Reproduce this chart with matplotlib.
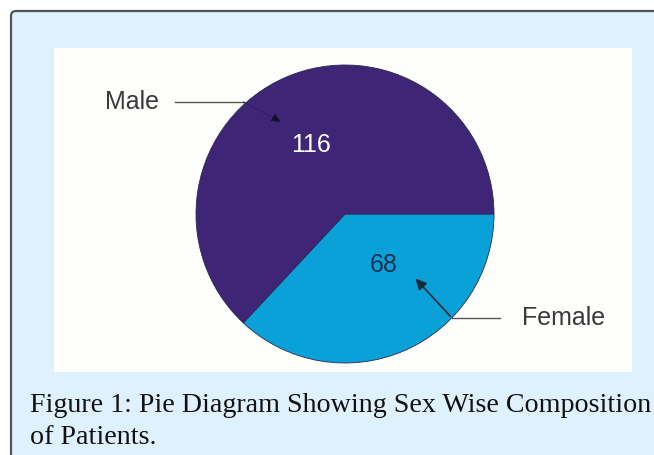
import matplotlib
matplotlib.use("Agg")
import matplotlib.pyplot as plt
from matplotlib.patches import FancyBboxPatch, Rectangle

# Data
labels = ["Male", "Female"]
counts = [116, 68]
colors = ["#3e2576", "#0aa1d8"]
caption = ["Figure 1: Pie Diagram Showing Sex Wise Composition", "of Patients."]

W, H = 654, 455
fig = plt.figure(figsize=(W / 100, H / 100), dpi=100)
fig.patch.set_facecolor("white")

# background panel in pixel coords
bg = fig.add_axes([0, 0, 1, 1], zorder=0)
bg.set_xlim(0, W)
bg.set_ylim(H, 0)
bg.axis("off")
bg.add_patch(FancyBboxPatch((11, 11), 700, 500, boxstyle="round,pad=0,rounding_size=5",
                            facecolor="#dff1fc", edgecolor="#555555", linewidth=1.6))
bg.add_patch(Rectangle((54, 48), 578, 324, facecolor="#fefefc", edgecolor="none"))

# caption, sized to fill the line width
t1 = bg.text(30, 412, caption[0], fontsize=18, family="Liberation Serif", color="#111111",
             va="baseline", ha="left")
fig.canvas.draw()
bb = t1.get_window_extent()
t1.set_fontsize(18 * 620 / bb.width)
bg.text(30, 444, caption[1], fontsize=t1.get_fontsize(), family="Liberation Serif",
        color="#111111", va="baseline", ha="left")

# pie
cx, cy, r = 345, 214, 149
ax = fig.add_axes([(cx - r) / W, 1 - (cy + r) / H, 2 * r / W, 2 * r / H], zorder=1)
wedges, texts, autotexts = ax.pie(
    counts[::-1], colors=colors[::-1], startangle=0, counterclock=False,
    autopct=lambda p: f"{round(p * sum(counts) / 100)}", pctdistance=0.5,
    wedgeprops=dict(linewidth=0.6, edgecolor="#2a2a55"),
    textprops=dict(fontsize=18, family="Liberation Sans"))
ax.set_xlim(-1, 1)
ax.set_ylim(-1, 1)
ax.set_aspect("equal")
autotexts[0].set_color("#17314f")
autotexts[0].set_position((0.26, -0.34))
autotexts[1].set_color("white")
autotexts[1].set_position((-0.23, 0.46))

# callouts
ax.plot([-0.68, -1.14], [0.75, 0.75], color="#555555", lw=1, clip_on=False)
ax.text(-1.25, 0.75, labels[0], ha="right", va="center", fontsize=18,
        family="Liberation Sans", color="#3a3a3a")
ax.plot([-0.68, -0.46], [0.75, 0.635], color="#34206a", lw=1)
ax.annotate("", xy=(-0.42, 0.61), xytext=(-0.47, 0.64),
            arrowprops=dict(arrowstyle="-|>", color="#111122", lw=0.5, mutation_scale=13))

ax.plot([0.72, 1.04], [-0.70, -0.70], color="#555555", lw=1, clip_on=False)
ax.text(1.19, -0.70, labels[1], ha="left", va="center", fontsize=18,
        family="Liberation Sans", color="#3a3a3a")
ax.annotate("", xy=(0.46, -0.42), xytext=(0.72, -0.70),
            arrowprops=dict(arrowstyle="-|>", color="#1a2a3a", lw=1.2, mutation_scale=16))

fig.savefig("out.png", dpi=100, facecolor=fig.get_facecolor())
